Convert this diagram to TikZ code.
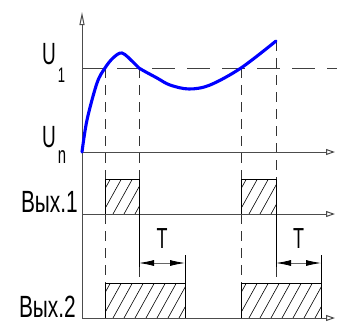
\documentclass[tikz,border=0pt]{standalone}
\usepackage{fontspec}
\newfontfamily\gost[FakeStretch=0.62]{Liberation Sans}
\newfontfamily\gostw[FakeStretch=0.68]{Liberation Sans}
\usetikzlibrary{arrows.meta}
\newcommand\hatchbox[4]{%
  \begin{scope}
    \clip (#1,#2) rectangle (#3,#4);
    \foreach \k in {0,...,10} \draw[hatch] ({#1-14+\k*11},#4) -- ++(19.4,-35);
  \end{scope}}
\begin{document}
\begin{tikzpicture}[x=1pt,y=-1pt,
  axis/.style={draw=black!70, line width=1pt},
  openarr/.style={-{Triangle[open,length=9pt,width=6pt]}},
  vdash/.style={draw=black!80, line width=0.8pt, dash pattern=on 10pt off 7pt},
  hdash/.style={draw=black!75, line width=1pt, dash pattern=on 23pt off 12pt},
  pulse/.style={draw=black, line width=0.9pt},
  hatch/.style={draw=black, line width=0.6pt},
  curve/.style={draw=blue, line width=3.1pt, line cap=round},
  dim/.style={draw=black!60, line width=0.8pt, {Latex[length=15pt,width=6pt,black]}-{Latex[length=15pt,width=6pt,black]}},
  ext/.style={draw=black, line width=0.9pt},
  lbl/.style={font=\gost\fontsize{30.7}{32}\selectfont, inner sep=0pt},
]
\fill[white] (0,0) rectangle (337,327);
\useasboundingbox (0,0) rectangle (337,327);

% key coordinates
\coordinate (Ybot) at (82,318);
\coordinate (Ytop) at (82,12);
\coordinate (A0s) at (82,152); \coordinate (A0e) at (335,152);
\coordinate (A1s) at (82,214); \coordinate (A1e) at (335,214);
\coordinate (A2s) at (82,318); \coordinate (A2e) at (335,318);
\coordinate (U1s) at (82,68);  \coordinate (U1e) at (337,68);

% hatching
\hatchbox{105}{179}{139}{214}
\hatchbox{241}{179}{276}{214}
\hatchbox{105}{283}{185}{318}
\hatchbox{241}{283}{321}{318}

% pulses
\draw[pulse] (105,214) |- (139,179) -- (139,214);
\draw[pulse] (241,214) |- (276,179) -- (276,214);
\draw[pulse] (105,318) |- (185,283) -- (185,318);
\draw[pulse] (241,318) |- (321,283) -- (321,318);

% dashed verticals
\draw[vdash] (105,68) -- (105,179);
\draw[vdash] (105,214) -- (105,283);
\draw[vdash] (139,68) -- (139,179);
\draw[vdash] (139,267) -- (139,283);
\draw[vdash] (241,68) -- (241,179);
\draw[vdash] (241,214) -- (241,283);
\draw[vdash] (276,41) -- (276,179);
\draw[vdash] (276,267) -- (276,283);

% U1 level
\draw[hdash] (U1s) -- (U1e);

% axes
\draw[axis,-{Triangle[open,length=13pt,width=5pt]}] (Ybot) -- (Ytop);
\draw[axis,openarr] (A0s) -- (A0e);
\draw[axis,openarr] (A1s) -- (A1e);
\draw[axis,openarr] (A2s) -- (A2e);

% extension lines and dimensions
\coordinate (e1a) at (139,263); \coordinate (e1b) at (185,263);
\coordinate (e2a) at (276,263); \coordinate (e2b) at (321,263);
\draw[ext] (139,214) -- (139,267);
\draw[ext] (185,255) -- (185,283);
\draw[ext] (276,214) -- (276,267);
\draw[ext] (321,255) -- (321,283);
\draw[dim] (e1a) -- (e1b);
\draw[dim] (e2a) -- (e2b);
\node[lbl, font=\gost\fontsize{29}{30}\selectfont, anchor=base] (T1) at (162,248) {T};
\node[lbl, font=\gost\fontsize{29}{30}\selectfont, anchor=base] (T2) at (298.5,248) {T};

% curve
\draw[curve] plot[smooth, tension=0.55] coordinates {(82,152) (87,120) (97,83) (105,68) (113,58) (122,53) (133,62) (139,68) (157,78) (170,85) (189,89) (210,85) (241,68) (276,41)};

% labels
\node[lbl, anchor=base west] (lU1) at (42,64) {U\kern2pt\raisebox{-18pt}{\fontsize{21}{21}\selectfont 1}};
\node[lbl, anchor=base west] (lUn) at (42,147) {U\kern2pt\raisebox{-16pt}{\fontsize{24}{24}\selectfont n}};
\node[lbl, font=\gostw\fontsize{30.7}{32}\selectfont, anchor=base east] (lV1) at (78,212) {Вых.1};
\node[lbl, font=\gostw\fontsize{30.7}{32}\selectfont, anchor=base east] (lV2) at (76,317) {Вых.2};
\end{tikzpicture}
\end{document}
